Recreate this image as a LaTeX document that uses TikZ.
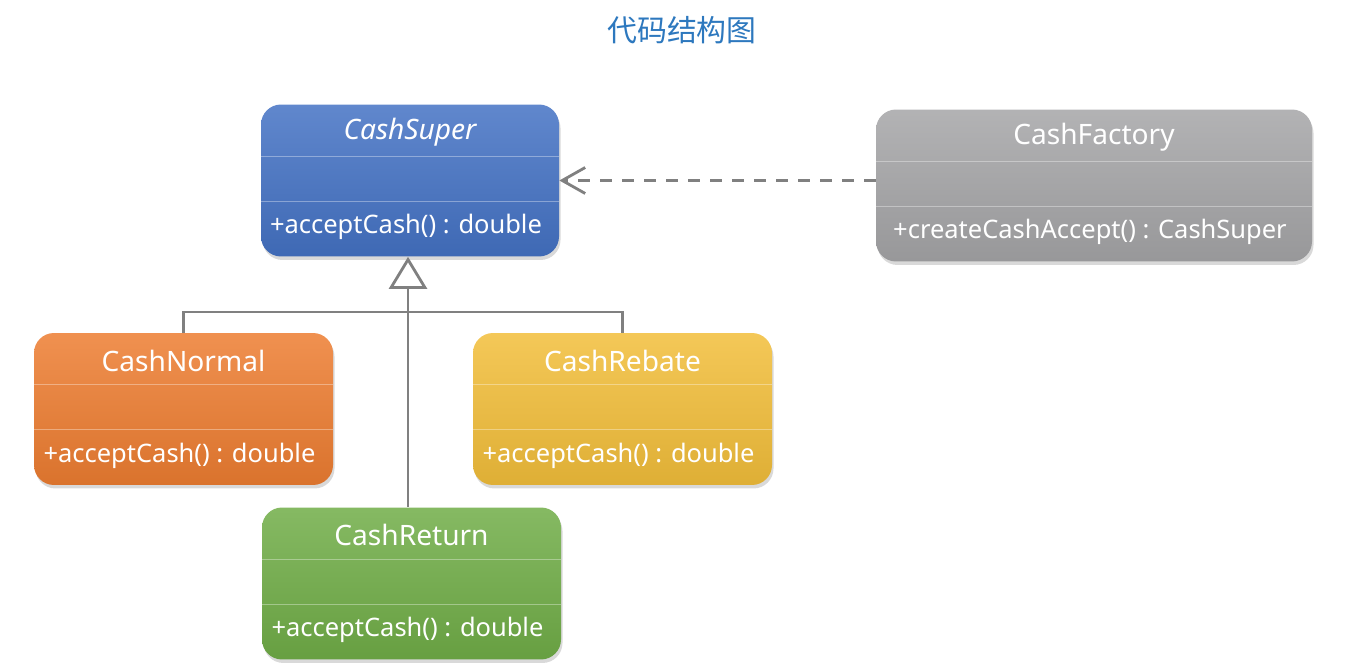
\documentclass[tikz,border=0pt]{standalone}
\usepackage{fontspec}
\setmainfont{Noto Sans}
\newfontfamily\cjk{Noto Sans CJK SC}
\usetikzlibrary{arrows.meta,shadows,calc}
\definecolor{titleblue}{RGB}{45,120,190}
\definecolor{supcol}{RGB}{68,114,196}
\definecolor{normcol}{RGB}{237,125,49}
\definecolor{rebcol}{RGB}{242,190,58}
\definecolor{retcol}{RGB}{112,173,71}
\definecolor{faccol}{RGB}{165,165,167}
\definecolor{conncol}{RGB}{128,128,128}

\begin{document}
\begin{tikzpicture}[x=0.02cm, y=-0.02cm,
    cls/.style={rounded corners=0.4cm, minimum height=3.04cm, inner sep=0pt,
      drop shadow={shadow xshift=0.03cm, shadow yshift=-0.07cm, opacity=0.3}},
    divider/.style={white, opacity=0.35, line width=0.5pt},
    clstitle/.style={text=white, font=\fontsize{16}{18}\selectfont, inner sep=0pt},
    clstext/.style={text=white, font=\fontsize{14.5}{16}\selectfont, inner sep=0pt},
    conn/.style={conncol, line width=1.6pt}]
  \useasboundingbox (0,0) rectangle (1361,671);
  \node[text=titleblue, font=\cjk\fontsize{17}{20}\selectfont] (title) at (682,30) {代码结构图};
  \foreach \n/\x/\y/\w/\col/\t/\m in {
      sup/410/180.5/298/supcol/{\itshape CashSuper}/{+acceptCash() : double},
      fac/1094/185.5/436/faccol/{CashFactory}/{+createCashAccept() : CashSuper},
      norm/183.5/409/299/normcol/{CashNormal}/{+acceptCash() : double},
      reb/622.5/409/299/rebcol/{CashRebate}/{+acceptCash() : double},
      ret/411.5/583.5/299/retcol/{CashReturn}/{+acceptCash() : double}}{
    \node[cls, minimum width=\w*0.02cm, top color=\col!85!white, bottom color=\col!92!black] (\n) at (\x,\y) {};
    \draw[divider] ($(\n.north west)+(0,52)$) -- ($(\n.north east)+(0,52)$);
    \draw[divider] ($(\n.north west)+(0,97)$) -- ($(\n.north east)+(0,97)$);
    \node[clstitle] at ($(\n.north)+(0,28)$) {\t};
    \node[clstext] at ($(\n.north)+(-4,123)$) {\m};
  }
  % generalization
  \coordinate (gen) at (408,288);
  \coordinate (bus) at (408,312);
  \draw[conn, -{Triangle[open, length=0.64cm, width=0.76cm]}] (gen) -- (gen |- sup.south);
  \draw[conn] (gen) -- (gen |- ret.north);
  \draw[conn] (norm.north) |- (bus) -| (reb.north);
  % dependency
  \draw[conn, dash pattern=on 0.24cm off 0.2cm, -{Straight Barb[length=0.46cm, width=0.52cm]}]
    (fac.west |- sup.east) -- (sup.east);
\end{tikzpicture}
\end{document}
